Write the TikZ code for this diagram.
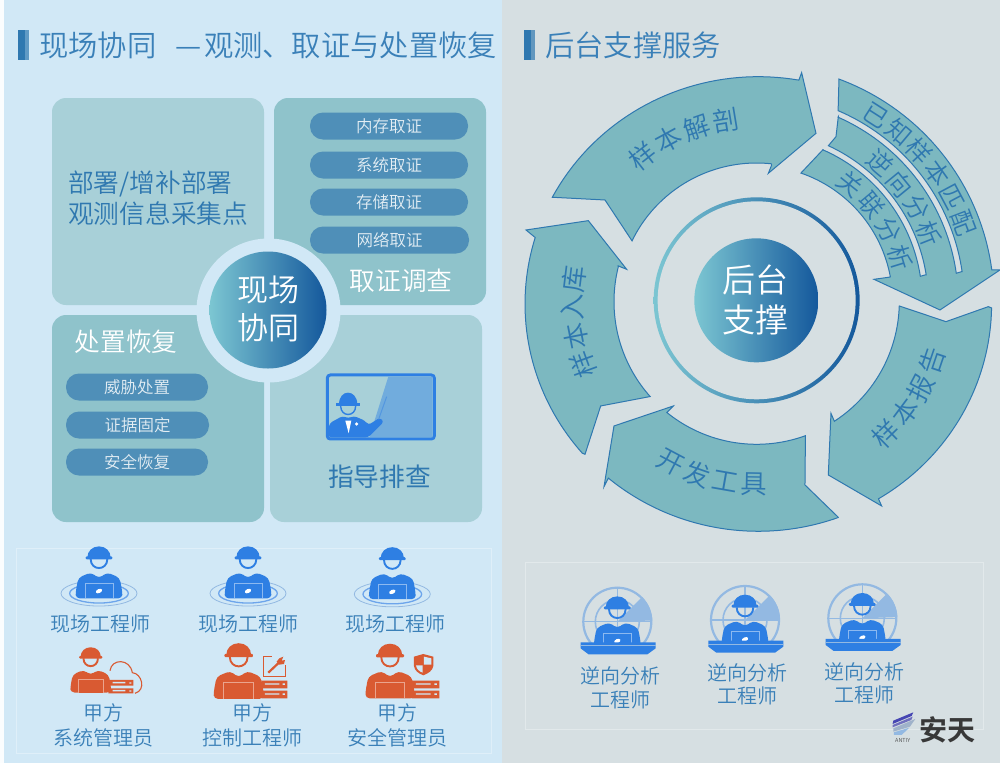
\documentclass[tikz,border=0pt]{standalone}
\usepackage{fontspec}
\setmainfont{Noto Sans CJK SC}[UprightFont=* DemiLight,BoldFont=* Bold]
\newfontfamily\regfont{Noto Sans CJK SC}
\usetikzlibrary{calc}
\definecolor{panelL}{HTML}{D1E8F6}
\definecolor{panelR}{HTML}{D6DFE2}
\definecolor{boxA}{HTML}{A8D0D8}
\definecolor{boxB}{HTML}{8FC3CB}
\definecolor{pillc}{HTML}{4F8FB8}
\definecolor{ringfill}{HTML}{7CB8C0}
\definecolor{ringline}{HTML}{2F78B0}
\definecolor{txtblue}{HTML}{3A80B8}
\definecolor{wblue}{HTML}{2E7FE3}
\definecolor{worange}{HTML}{D95A32}
\definecolor{radar}{HTML}{93B9E2}
\definecolor{gradL}{HTML}{7CC6D2}
\definecolor{gradR}{HTML}{14589C}
\tikzset{
  lab/.style={inner sep=0pt,align=center,text=txtblue,font=\fontsize{20}{25}\selectfont},
  head/.style={inner sep=0pt,anchor=west,text=txtblue,font=\fontsize{29.3}{34}\selectfont},
  bigw/.style={inner sep=0pt,align=center,text=white,font=\fontsize{25.7}{30}\selectfont},
  bigb/.style={inner sep=0pt,align=left,text=ringline,font=\fontsize{25.7}{30.5}\selectfont},
  card/.style={rounded corners=14pt},
  pill/.style={inner sep=0pt,rounded corners=13pt,fill=pillc,minimum height=27pt,minimum width=#1,text=white!85!pillc,font=\fontsize{16.5}{20}\selectfont},
  ringshape/.style={fill=ringfill,draw=ringline,line width=1pt,line join=miter},
  frame/.style={draw=white!30!#1,line width=0.8pt},
  disc/.style={left color=gradL,right color=gradR}
}
% arcs in reference zoom units, centred on the ring
\newcommand{\oarcs}[2]{plot[domain=#1:#2,samples=40]({745+700*cos(\x)},{732-682*sin(\x)})}
\newcommand{\oarc}[2]{-- plot[domain=#1:#2,samples=40]({745+700*cos(\x)},{732-682*sin(\x)})}
\newcommand{\iarcs}[3]{plot[domain=#1:#2,samples=40]({740+#3*cos(\x)},{725-#3*sin(\x)})}
\newcommand{\iarc}[3]{-- plot[domain=#1:#2,samples=40]({740+#3*cos(\x)},{725-#3*sin(\x)})}
\newcommand{\ringtext}[7]{% name, first angle, step, radius, rotation offset, size, chars
  \foreach \ch [count=\ci from 0] in {#7}{
    \pgfmathsetmacro{\ang}{#2+\ci*(#3)}
    \pgfmathsetmacro{\px}{740+#4*cos(\ang)}
    \pgfmathsetmacro{\py}{725-#4*sin(\ang)}
    \pgfmathsetmacro{\rt}{\ang+#5}
    \node[inner sep=0pt,text=ringline,rotate=\rt,font=\fontsize{#6}{#6}\selectfont] (#1-\ci) at (\px,\py) {\ch};
  }}
\newcommand{\worker}[5]{% x,y,scale,colour,blob colour
  \begin{scope}[shift={(#1,#2)},x=.3333pt,y=-.3333pt,scale=#3]
    \fill[#4,rounded corners=1pt] (-40,-46) rectangle (40,-37);
    \fill[#4] (-35,-42) .. controls (-35,-62) and (-20,-76) .. (0,-76) .. controls (20,-76) and (35,-62) .. (35,-42) -- cycle;
    \draw[#4,line width=1.9pt] (-25,-38) .. controls (-25,-2) and (25,-2) .. (25,-38);
    \fill[#4,rounded corners=4pt] (-70,80) -- (-70,60) -- (-62,18) -- (-24,2) -- (0,20) -- (24,2) -- (62,18) -- (70,60) -- (70,80) -- cycle;
    \fill[#4,draw=#4!55!white,line width=0.7pt] (-42,80) -- (-42,35) -- (42,35) -- (42,80);
    \fill[#5,rotate around={25:(0,58)}] (0,58) ellipse [x radius=10,y radius=6];
  \end{scope}}
\newcommand{\ripple}[2]{%
  \begin{scope}[shift={(#1,#2)},x=.3333pt,y=-.3333pt]
    \draw[radar,line width=0.8pt] (0,65) ellipse [x radius=114,y radius=38];
    \draw[wblue!70!white,line width=1.3pt] (0,65) ellipse [x radius=88,y radius=29];
  \end{scope}}
\newcommand{\analyst}[2]{% x,y of the radar centre
  \begin{scope}[shift={(#1,#2)},x=.3333pt,y=-.3333pt]
    \begin{scope}
      \clip (-120,-115) rectangle (120,64);
      \fill[radar] (0,0) -- (2:35pt) arc[start angle=2,end angle=45,radius=35pt] -- cycle;
      \draw[radar,line width=2.2pt] (0,0) circle[radius=34pt];
      \draw[radar,line width=1.6pt] (0,0) circle[radius=22pt];
      \draw[radar,line width=1.3pt] (-105,0) -- (105,0) (0,-105) -- (0,64);
    \end{scope}
  \end{scope}
  \worker{#1}{#2}{1}{wblue}{white}
  \begin{scope}[shift={(#1,#2)},x=.3333pt,y=-.3333pt]
    \fill[wblue] (-110,62) -- (115,62) -- (115,80) -- (90,98) -- (-86,98) -- (-110,80) -- cycle;
    \draw[panelR!60!wblue,line width=0.6pt] (-110,72) -- (115,72);
  \end{scope}}
\begin{document}
\begin{tikzpicture}[x=1pt,y=-1pt]
\useasboundingbox (0,0) rectangle (1000,763);
% panels
\fill[white!92!panelL] (0,0) rectangle (5,763);
\fill[panelL] (4,0) rectangle (502,763);
\fill[panelR] (502,0) rectangle (1000,763);
% headings
\fill[ringline] (18,30) rectangle (25,60);
\fill[ringline!70!panelL] (25,30) rectangle (29,60);
\node[head] (t1) at (39,45) {现场协同 \hspace{13pt}—\hspace{2pt}观测、取证与处置恢复};
\fill[ringline] (524,30) rectangle (531,60);
\fill[ringline!70!panelR] (531,30) rectangle (535,60);
\node[head] (t2) at (545,45) {后台支撑服务};
% cards
\fill[boxA,card] (52,98) rectangle (264,305);
\fill[boxB,card] (274,98) rectangle (486,305);
\fill[boxB,card] (52,315) rectangle (264,522);
\fill[boxA,card] (270,315) rectangle (482,522);
\node[bigb,anchor=west] (c1) at (68,198) {部署/增补部署\\观测信息采集点};
\node[pill=158pt] (p1) at (389,126) {内存取证};
\node[pill=158pt] (p2) at (389,165) {系统取证};
\node[pill=158pt] (p3) at (389,202) {存储取证};
\node[pill=159pt] (p4) at (389.5,240) {网络取证};
\node[bigw] (c2) at (401,281) {取证调查};
\node[bigw] (c3) at (126,342) {处置恢复};
\node[pill=142pt] (p5) at (137,387) {威胁处置};
\node[pill=143pt] (p6) at (137.5,425) {证据固定};
\node[pill=142pt] (p7) at (137,462) {安全恢复};
\node[bigb,font=\fontsize{25.7}{30.5}\selectfont\regfont] (c4) at (379.5,477) {指导排查};
% centre hub
\fill[panelL] (268.5,310.5) circle[radius=72pt];
\shade[disc] (268,310) circle[radius=58.5pt];
\node[inner sep=0pt,align=center,text=white,font=\fontsize{31}{38}\selectfont] (hub) at (268,309) {现场\\协同};
% presenter board
\begin{scope}[shift={(190,230)},x=.3333pt,y=-.3333pt]
  \fill[boxA,draw=wblue,line width=3pt,rounded corners=3pt] (412,435) rectangle (733,627);
  \fill[wblue!45!boxA] (595,440) -- (728,440) -- (728,622) -- (538,622) -- cycle;
  \fill[wblue] (438,520) rectangle (510,528);
  \fill[wblue] (447,524) .. controls (447,500) and (460,488) .. (474,488) .. controls (488,488) and (502,500) .. (502,524) -- cycle;
  \draw[wblue,line width=1.4pt] (452,528) .. controls (452,562) and (497,562) .. (497,528);
  \fill[wblue,rounded corners=3pt] (415,622) -- (418,580) -- (458,558) -- (475,565) -- (492,558) -- (525,572) -- (535,585) -- (570,563) -- (582,575) -- (535,622) -- cycle;
  \fill[white] (466,572) -- (484,572) -- (476,610) -- cycle;
  \fill[white] (500,582) circle[radius=1.8pt];
  \draw[wblue!70!boxA,line width=1pt] (566,568) -- (590,500);
\end{scope}
% ---------- ring
\begin{scope}[shift={(510,60)},x=.3333pt,y=-.3333pt]
  \draw[ringshape] \oarcs{152}{80} -- (875,38) -- (918,220) -- (775,340) -- (785,315) \iarc{84}{154}{416} -- (285,420) -- cycle;
  \draw[ringshape] (48,510) -- (235,482) -- (350,628) -- (325,618) \iarc{165.5}{221.7}{428} -- (272,1038) -- (225,1183) \oarc{221}{163} -- cycle;
  \draw[ringshape] (985,1372) \oarc{290}{230} -- (282,1280) -- (312,1098) -- (490,1038) \iarc{231}{290}{428} -- (885,1275) -- cycle;
  \draw[ringshape] (1168,738) -- (1308,785) -- (1435,740) \oarc{359}{301} -- (1115,1338) -- (955,1245) -- (963,1060) \iarc{303}{358}{428} -- cycle;
  \draw[ringshape] \iarcs{69.7}{7.7}{712} -- (1470,630) -- (1290,750) -- (1092,658) -- (1135,652) \iarc{10.5}{71}{408} -- (940,268) \iarc{66.4}{8.8}{497} -- (1245,645) \iarc{9}{65.3}{515} -- (978,230) -- (985,170) \iarc{66.2}{8.1}{605} -- (1355,635) \iarc{8.3}{66.9}{623} -- cycle;
  \ringtext{a}{128}{-9.5}{553}{-90}{26.5}{样,本,解,剖}
  \ringtext{b}{200}{-9}{553}{-90}{26.5}{样,本,入,库}
  \ringtext{c}{242}{9}{548}{90}{26.5}{开,发,工,具}
  \ringtext{d}{-45.7}{9}{555}{90}{26.5}{样,本,报,告}
  \ringtext{e}{57.3}{-7.3}{664}{-90}{25}{已,知,样,本,匹,配}
  \ringtext{f}{48.3}{-8.9}{557}{-90}{25}{逆,向,分,析}
  \ringtext{g}{51.3}{-11.4}{451}{-90}{25}{关,联,分,析}
  \shade[disc] (740,721) circle[radius=103pt];
  \fill[panelR] (740,721) circle[radius=99pt];
  \shade[disc] (739,721) circle[radius=62pt];
  \node[inner sep=0pt,align=center,text=white,font=\fontsize{33}{40}\selectfont] (hub2) at (738,721) {后台\\支撑};
\end{scope}
% ---------- people frame, left
\draw[frame=panelL] (16,548) rectangle (491,753);
\ripple{99}{571.7}\ripple{248}{571.7}\ripple{392.3}{572.5}
\worker{99}{571.7}{1}{wblue}{white}
\worker{248}{571.7}{1}{wblue}{white}
\worker{392.3}{572.5}{1}{wblue}{white}
\node[lab] (e1) at (100,624) {现场工程师};
\node[lab] (e2) at (248.5,624) {现场工程师};
\node[lab] (e3) at (395,624) {现场工程师};
\worker{90.7}{669.3}{.87}{worange}{worange}
\worker{238.7}{670.3}{1.07}{worange}{worange}
\worker{390}{670.3}{1.05}{worange}{worange}
\begin{scope}[shift={(0,540)},x=.3333pt,y=-.3333pt]
  % cloud and server
  \draw[worange,line width=1.1pt] (330,392) .. controls (335,355) and (390,355) .. (397,398) .. controls (425,400) and (440,450) .. (405,460);
  \fill[worange] (325,420) rectangle (400,437) (325,445) rectangle (400,460);
  \fill[panelL] (338,426) rectangle (376,430) (338,450) rectangle (376,454) (388,427) rectangle (394,431) (388,451) rectangle (394,455);
  % tool and server
  \draw[worange,line width=1.1pt] (815,350) -- (790,350) -- (790,410) -- (857,410) -- (857,375);
  \draw[worange,line width=2.2pt] (805,398) -- (840,365);
  \fill[worange] (838,355) -- (850,350) -- (845,362) -- (855,360) -- (852,372) -- (838,374) -- (830,365) -- cycle;
  \fill[worange] (785,422) rectangle (862,445) (785,452) rectangle (862,475);
  \fill[panelL] (795,430) rectangle (838,434) (795,460) rectangle (838,464) (848,430) rectangle (855,435) (848,460) rectangle (855,465);
  % shield and server
  \fill[worange] (1270,342) -- (1300,350) -- (1300,378) .. controls (1298,392) and (1285,400) .. (1270,406) .. controls (1255,400) and (1244,392) .. (1242,378) -- (1242,350) -- cycle;
  \fill[panelL] (1272,350) -- (1294,355) -- (1294,374) -- (1272,374) -- cycle;
  \fill[panelL] (1268,376) -- (1268,398) .. controls (1258,394) and (1250,388) .. (1248,376) -- cycle;
  \fill[worange] (1235,422) rectangle (1318,445) (1235,452) rectangle (1318,475);
  \fill[panelL] (1248,430) rectangle (1292,434) (1248,460) rectangle (1292,464) (1303,430) rectangle (1311,435) (1303,460) rectangle (1311,465);
\end{scope}
\node[lab] (m1) at (103,725.5) {甲方\\系统管理员};
\node[lab] (m2) at (252,725.5) {甲方\\控制工程师};
\node[lab] (m3) at (397,725.5) {甲方\\安全管理员};
% ---------- people frame, right
\draw[frame=panelR] (525,562) rectangle (983,729);
\analyst{617.3}{621.7}
\analyst{745}{620}
\analyst{862.3}{618.3}
\node[lab,font=\fontsize{20}{23.5}\selectfont] (a1) at (620.7,687.6) {逆向分析\\工程师};
\node[lab,font=\fontsize{20}{23}\selectfont] (a2) at (747.3,684.7) {逆向分析\\工程师};
\node[lab,font=\fontsize{20}{23}\selectfont] (a3) at (864,683.3) {逆向分析\\工程师};
% logo
\begin{scope}[shift={(510,550)},x=.3333pt,y=-.3333pt]
  \fill[black!5!blue!45!gray] (1150,512) -- (1210,487) -- (1205,498) -- (1148,522) -- cycle;
  \fill[black!5!blue!40!gray!80!white] (1148,525) -- (1208,500) -- (1204,510) -- (1148,532) -- cycle;
  \fill[wblue!40!gray!60!white] (1150,535) -- (1216,507) -- (1200,530) -- (1150,545) -- cycle;
  \fill[radar] (1152,547) -- (1198,533) -- (1175,555) -- (1152,555) -- cycle;
\end{scope}
\node[inner sep=0pt,text=black!78,font=\fontsize{28}{30}\selectfont\bfseries] (logo) at (947,730) {安天};
\node[inner sep=0pt,text=black!70,font=\fontsize{5.5}{6}\selectfont] (logo2) at (902.7,740) {ANTIY};
\end{tikzpicture}
\end{document}
